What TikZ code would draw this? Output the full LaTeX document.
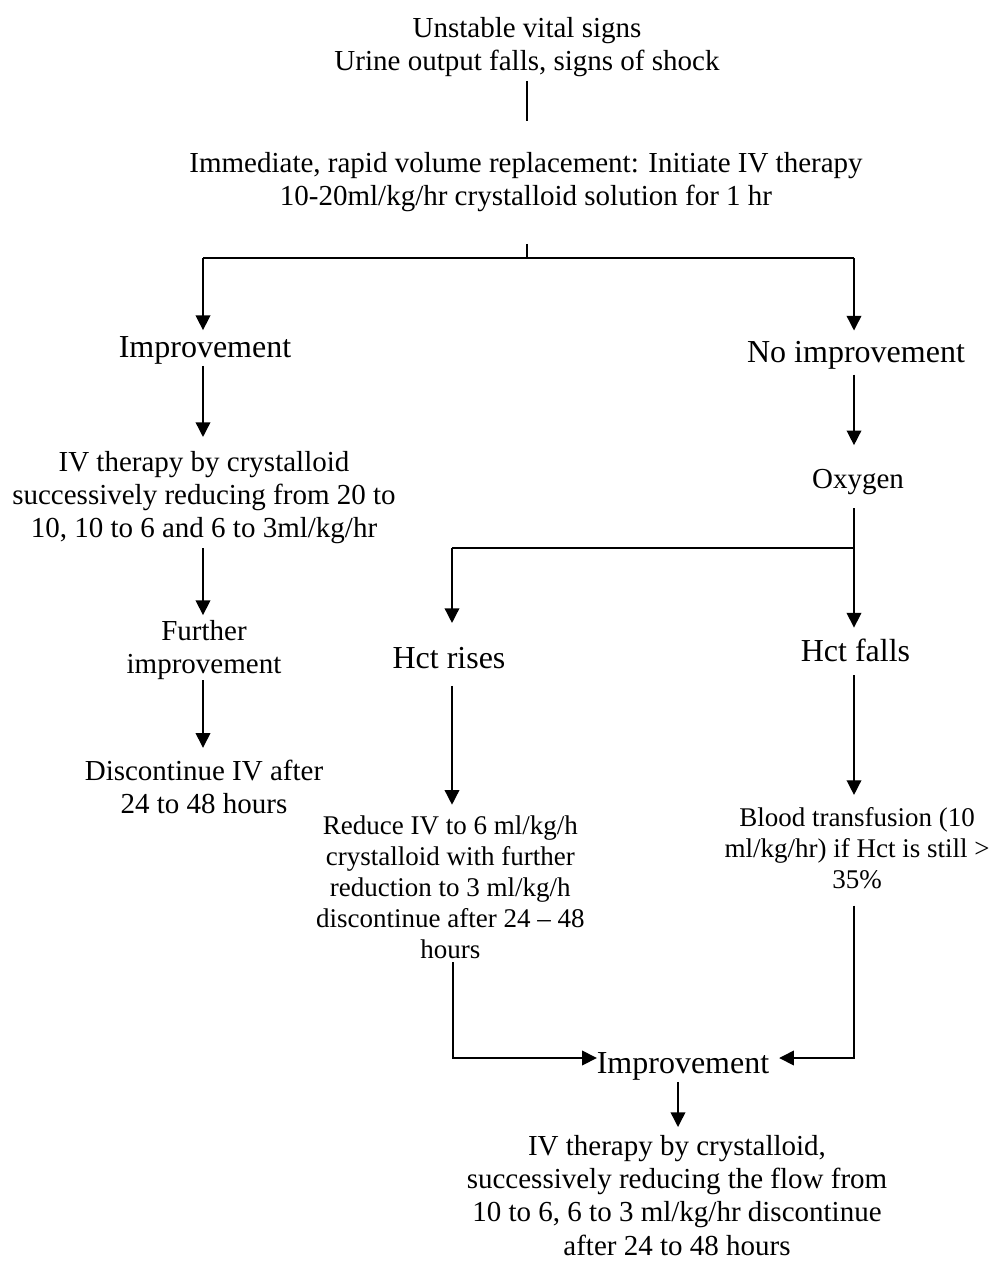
\documentclass[tikz,border=0pt]{standalone}
\usepackage{fontspec}
\setmainfont{Liberation Serif}
\usetikzlibrary{arrows.meta,calc}
\newcommand\fA{\fontsize{21.75}{25}\selectfont}
\newcommand\fB{\fontsize{24}{27.6}\selectfont}
\newcommand\fC{\fontsize{20.25}{23.25}\selectfont}
\begin{document}
\begin{tikzpicture}[x=0.75pt,y=-0.75pt,line width=1.1pt,
  txt/.style={inner sep=0pt,outer sep=0pt,align=center},
  tA/.style={txt,font=\fA},
  tB/.style={txt,font=\fB},
  tC/.style={txt,font=\fC},
  arr/.style={-{Triangle[width=11pt,length=11pt]}}]
\useasboundingbox (0,0) rectangle (989,1262);
% columns
\coordinate (xC) at (527,0);
\coordinate (xL) at (203,0);
\coordinate (xR) at (854,0);
\coordinate (xM) at (452,0);
\coordinate (xB) at (678,0);
% nodes
\node[tA] (top) at (527,46.9) {Unstable vital signs\\Urine output falls, signs of shock};
\node[tA] (imm) at (526,181.9) {Immediate, rapid volume replacement: Initiate IV therapy\\10-20ml/kg/hr crystalloid solution for 1 hr};
\node[tB] (impL) at (205,350) {Improvement};
\node[tA] (ivL) at (204,497.5) {IV therapy by crystalloid\\successively reducing from 20 to\\10, 10 to 6 and 6 to 3ml/kg/hr};
\node[tA] (furL) at (204,649.9) {Further\\improvement};
\node[tA] (disL) at (204,786.8) {Discontinue IV after\\24 to 48 hours};
\node[tB] (noImp) at (856,355.5) {No improvement};
\node[tA] (oxy) at (858,482.4) {Oxygen};
\node[tB] (hctF) at (855.5,650) {Hct falls};
\node[tB] (hctR) at (449,658) {Hct rises};
\node[tC] (blood) at (857,847.9) {Blood transfusion (10\\ml/kg/hr) if Hct is still >\\35\%};
\node[tC] (reduce) at (450.3,886.8) {Reduce IV to 6 ml/kg/h\\crystalloid with further\\reduction to 3 ml/kg/h\\discontinue after 24 -- 48\\hours};
\node[tB] (impB) at (683,1066) {Improvement};
\node[tA] (bot) at (677,1195.2) {IV therapy by crystalloid,\\successively reducing the flow from\\10 to 6, 6 to 3 ml/kg/hr discontinue\\after 24 to 48 hours};
% junctions
\coordinate (split) at (527,258);
\coordinate (jL) at (203,258);
\coordinate (jR) at (854,258);
\coordinate (jO) at (854,548);
\coordinate (jM) at (452,548);
\coordinate (cM) at (453,1058);
\coordinate (cR) at (854,1058);
% connectors
\draw ($(top.south -| xC)+(0,4)$) -- ($(imm.north -| xC)+(0,-31)$);
\draw ($(imm.south -| xC)+(0,32)$) -- (split);
\draw (jL) -- (jR);
\draw[arr] (jL) -- ($(impL.north -| xL)+(0,-6)$);
\draw[arr] (jR) -- ($(noImp.north -| xR)+(0,-11)$);
\draw[arr] ($(impL.south -| xL)+(0,2)$) -- ($(ivL.north -| xL)+(0,-14)$);
\draw[arr] ($(ivL.south -| xL)+(0,4)$) -- ($(furL.north -| xL)+(0,-5)$);
\draw[arr] ($(furL.south -| xL)+(0,0.5)$) -- ($(disL.north -| xL)+(0,-12)$);
\draw[arr] ($(noImp.south -| xR)+(0,5)$) -- ($(oxy.north -| xR)+(0,-24.5)$);
\draw[arr] ($(oxy.south -| xR)+(0,13)$) -- ($(hctF.north -| xR)+(0,-11)$);
\draw (jO) -- (jM);
\draw[arr] (jM) -- ($(hctR.north -| xM)+(0,-24.3)$);
\draw[arr] ($(hctF.south -| xR)+(0,14)$) -- ($(blood.north -| xR)+(0,-12.3)$);
\draw[arr] ($(hctR.south -| xM)+(0,17)$) -- ($(reduce.north -| xM)+(0,-10.6)$);
\draw[arr] ($(reduce.south -| cM)+(0,4)$) -- (cM) -- (impB.west |- cM);
\draw[arr] ($(blood.south -| cR)+(0,17)$) -- (cR) -- ($(impB.east |- cR)+(10,0)$);
\draw[arr] ($(impB.south -| xB)+(0,2)$) -- ($(bot.north -| xB)+(0,-8)$);
\end{tikzpicture}
\end{document}
